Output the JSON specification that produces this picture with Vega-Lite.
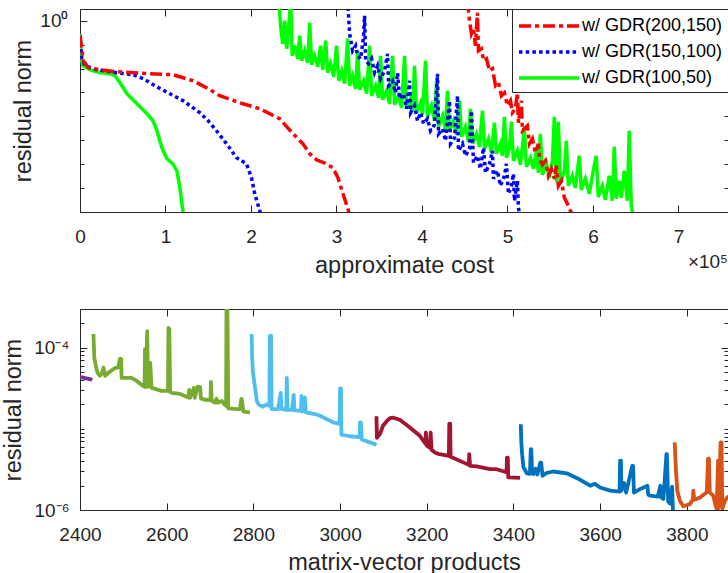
{
  "$schema": "https://vega.github.io/schema/vega-lite/v6.json",
  "background": "white",
  "padding": {"left": 1, "top": 8, "right": 0, "bottom": 0},
  "config": {
    "font": "Liberation Sans",
    "view": {"stroke": "#262626", "strokeWidth": 1},
    "axis": {
      "domain": false, "grid": false, "labelFlush": false,
      "labelFont": "Liberation Sans", "labelFontSize": 19, "labelColor": "#262626",
      "titleFont": "Liberation Sans", "titleFontSize": 23.5, "titleFontWeight": "normal", "titleColor": "#262626",
      "tickColor": "#262626", "tickWidth": 1
    }
  },
  "bounds": "flush",
  "spacing": 97,
  "resolve": {"scale": {"color": "independent", "strokeDash": "independent"}},
  "vconcat": [
    {
      "width": 648, "height": 203,
      "title": {"text": "×10⁵", "orient": "bottom", "anchor": "end", "frame": "group", "offset": -24, "fontSize": 19, "fontWeight": "normal", "font": "Liberation Sans", "color": "#262626"},
      "data": {"values": [
        {"series":"w/ GDR(100,50)","seg":"a","cost":0,"res":0.286},
        {"series":"w/ GDR(100,50)","seg":"a","cost":1170,"res":0.0283},
        {"series":"w/ GDR(100,50)","seg":"a","cost":3500,"res":0.0131},
        {"series":"w/ GDR(100,50)","seg":"a","cost":11700,"res":0.0089},
        {"series":"w/ GDR(100,50)","seg":"a","cost":23400,"res":0.00668},
        {"series":"w/ GDR(100,50)","seg":"a","cost":35000,"res":0.00606},
        {"series":"w/ GDR(100,50)","seg":"a","cost":40900,"res":0.005},
        {"series":"w/ GDR(100,50)","seg":"a","cost":46700,"res":0.00255},
        {"series":"w/ GDR(100,50)","seg":"a","cost":54900,"res":8.84e-4},
        {"series":"w/ GDR(100,50)","seg":"a","cost":66600,"res":3.37e-4},
        {"series":"w/ GDR(100,50)","seg":"a","cost":78300,"res":1.29e-4},
        {"series":"w/ GDR(100,50)","seg":"a","cost":85300,"res":6.55e-5},
        {"series":"w/ GDR(100,50)","seg":"a","cost":90000,"res":2.5e-5},
        {"series":"w/ GDR(100,50)","seg":"a","cost":95800,"res":4.86e-6},
        {"series":"w/ GDR(100,50)","seg":"a","cost":101600,"res":1.69e-6},
        {"series":"w/ GDR(100,50)","seg":"a","cost":108600,"res":1.04e-6},
        {"series":"w/ GDR(100,50)","seg":"a","cost":113300,"res":5.3e-7},
        {"series":"w/ GDR(100,50)","seg":"a","cost":116800,"res":1.03e-7},
        {"series":"w/ GDR(100,50)","seg":"a","cost":120300,"res":1.12e-8},
        {"series":"w/ GDR(100,50)","seg":"a","cost":122700,"res":2.6e-9},

        {"series":"w/ GDR(150,100)","seg":"a","cost":0,"res":0.236},
        {"series":"w/ GDR(150,100)","seg":"a","cost":2000,"res":0.0283},
        {"series":"w/ GDR(150,100)","seg":"a","cost":5800,"res":0.0131},
        {"series":"w/ GDR(150,100)","seg":"a","cost":19500,"res":0.0089},
        {"series":"w/ GDR(150,100)","seg":"a","cost":42900,"res":0.00668},
        {"series":"w/ GDR(150,100)","seg":"a","cost":62300,"res":0.0055},
        {"series":"w/ GDR(150,100)","seg":"a","cost":74000,"res":0.00375},
        {"series":"w/ GDR(150,100)","seg":"a","cost":89600,"res":0.00174},
        {"series":"w/ GDR(150,100)","seg":"a","cost":105100,"res":8.84e-4},
        {"series":"w/ GDR(150,100)","seg":"a","cost":120700,"res":4.5e-4},
        {"series":"w/ GDR(150,100)","seg":"a","cost":140200,"res":1.42e-4},
        {"series":"w/ GDR(150,100)","seg":"a","cost":149900,"res":6.55e-5},
        {"series":"w/ GDR(150,100)","seg":"a","cost":159700,"res":2.5e-5},
        {"series":"w/ GDR(150,100)","seg":"a","cost":171400,"res":7.14e-6},
        {"series":"w/ GDR(150,100)","seg":"a","cost":183100,"res":1.86e-6},
        {"series":"w/ GDR(150,100)","seg":"a","cost":194700,"res":1.04e-6},
        {"series":"w/ GDR(150,100)","seg":"a","cost":200600,"res":2.7e-7},
        {"series":"w/ GDR(150,100)","seg":"a","cost":204400,"res":5.78e-8},
        {"series":"w/ GDR(150,100)","seg":"a","cost":210300,"res":1.12e-8},
        {"series":"w/ GDR(150,100)","seg":"a","cost":212600,"res":4.3e-9},

        {"series":"w/ GDR(200,150)","seg":"a","cost":0,"res":0.236},
        {"series":"w/ GDR(200,150)","seg":"a","cost":3900,"res":0.0212},
        {"series":"w/ GDR(200,150)","seg":"a","cost":9700,"res":0.0108},
        {"series":"w/ GDR(200,150)","seg":"a","cost":23400,"res":0.0089},
        {"series":"w/ GDR(200,150)","seg":"a","cost":42900,"res":0.00735},
        {"series":"w/ GDR(200,150)","seg":"a","cost":81800,"res":0.00606},
        {"series":"w/ GDR(200,150)","seg":"a","cost":109000,"res":0.0055},
        {"series":"w/ GDR(200,150)","seg":"a","cost":132300,"res":0.00309},
        {"series":"w/ GDR(200,150)","seg":"a","cost":148000,"res":0.00158},
        {"series":"w/ GDR(200,150)","seg":"a","cost":163500,"res":7.28e-4},
        {"series":"w/ GDR(200,150)","seg":"a","cost":186900,"res":3.71e-4},
        {"series":"w/ GDR(200,150)","seg":"a","cost":210300,"res":2.08e-4},
        {"series":"w/ GDR(200,150)","seg":"a","cost":233600,"res":7.96e-5},
        {"series":"w/ GDR(200,150)","seg":"a","cost":249200,"res":1.87e-5},
        {"series":"w/ GDR(200,150)","seg":"a","cost":260800,"res":7.14e-6},
        {"series":"w/ GDR(200,150)","seg":"a","cost":268700,"res":2.73e-6},
        {"series":"w/ GDR(200,150)","seg":"a","cost":276500,"res":1.53e-6},
        {"series":"w/ GDR(200,150)","seg":"a","cost":288200,"res":1.04e-6},
        {"series":"w/ GDR(200,150)","seg":"a","cost":295900,"res":7.07e-7},
        {"series":"w/ GDR(200,150)","seg":"a","cost":301700,"res":2.7e-7},
        {"series":"w/ GDR(200,150)","seg":"a","cost":307600,"res":5.78e-8},
        {"series":"w/ GDR(200,150)","seg":"a","cost":313400,"res":1.36e-8},
        {"series":"w/ GDR(200,150)","seg":"a","cost":315400,"res":6.9e-9},

        {"series":"w/ GDR(100,50)","seg":"b","cost":232500,"res":6.87},
        {"series":"w/ GDR(100,50)","seg":"b","cost":234800,"res":0.51},
        {"series":"w/ GDR(100,50)","seg":"b","cost":237100,"res":0.109},
        {"series":"w/ GDR(100,50)","seg":"b","cost":239500,"res":1.0},
        {"series":"w/ GDR(100,50)","seg":"b","cost":241800,"res":0.0674},
        {"series":"w/ GDR(100,50)","seg":"b","cost":244200,"res":0.618},
        {"series":"w/ GDR(100,50)","seg":"b","cost":246500,"res":6.87},
        {"series":"w/ GDR(100,50)","seg":"b","cost":248200,"res":0.0343},
        {"series":"w/ GDR(100,50)","seg":"b","cost":251200,"res":0.0899},
        {"series":"w/ GDR(100,50)","seg":"b","cost":254700,"res":0.0257},
        {"series":"w/ GDR(100,50)","seg":"b","cost":257000,"res":0.236},
        {"series":"w/ GDR(100,50)","seg":"b","cost":259300,"res":0.0212},
        {"series":"w/ GDR(100,50)","seg":"b","cost":262800,"res":0.0556},
        {"series":"w/ GDR(100,50)","seg":"b","cost":266300,"res":0.0175},
        {"series":"w/ GDR(100,50)","seg":"b","cost":268700,"res":0.825},
        {"series":"w/ GDR(100,50)","seg":"b","cost":271000,"res":0.0144},
        {"series":"w/ GDR(100,50)","seg":"b","cost":274500,"res":0.0343},
        {"series":"w/ GDR(100,50)","seg":"b","cost":278000,"res":0.0119},
        {"series":"w/ GDR(100,50)","seg":"b","cost":281500,"res":0.0899},
        {"series":"w/ GDR(100,50)","seg":"b","cost":283900,"res":0.0089},
        {"series":"w/ GDR(100,50)","seg":"b","cost":287400,"res":0.146},
        {"series":"w/ GDR(100,50)","seg":"b","cost":289700,"res":0.00668},
        {"series":"w/ GDR(100,50)","seg":"b","cost":293200,"res":0.0159},
        {"series":"w/ GDR(100,50)","seg":"b","cost":296700,"res":0.00454},
        {"series":"w/ GDR(100,50)","seg":"b","cost":300200,"res":0.0899},
        {"series":"w/ GDR(100,50)","seg":"b","cost":302600,"res":0.00309},
        {"series":"w/ GDR(100,50)","seg":"b","cost":306100,"res":0.00809},
        {"series":"w/ GDR(100,50)","seg":"b","cost":309600,"res":0.00232},
        {"series":"w/ GDR(100,50)","seg":"b","cost":313100,"res":0.177},
        {"series":"w/ GDR(100,50)","seg":"b","cost":315400,"res":0.00191},
        {"series":"w/ GDR(100,50)","seg":"b","cost":318900,"res":0.005},
        {"series":"w/ GDR(100,50)","seg":"b","cost":322400,"res":0.00143},
        {"series":"w/ GDR(100,50)","seg":"b","cost":324800,"res":0.0556},
        {"series":"w/ GDR(100,50)","seg":"b","cost":327100,"res":0.0013},
        {"series":"w/ GDR(100,50)","seg":"b","cost":331800,"res":0.00309},
        {"series":"w/ GDR(100,50)","seg":"b","cost":335300,"res":8.84e-4},
        {"series":"w/ GDR(100,50)","seg":"b","cost":338800,"res":0.0899},
        {"series":"w/ GDR(100,50)","seg":"b","cost":341100,"res":7.28e-4},
        {"series":"w/ GDR(100,50)","seg":"b","cost":345800,"res":0.00191},
        {"series":"w/ GDR(100,50)","seg":"b","cost":349300,"res":6.01e-4},
        {"series":"w/ GDR(100,50)","seg":"b","cost":351600,"res":0.0343},
        {"series":"w/ GDR(100,50)","seg":"b","cost":354000,"res":4.95e-4},
        {"series":"w/ GDR(100,50)","seg":"b","cost":358600,"res":0.00118},
        {"series":"w/ GDR(100,50)","seg":"b","cost":362100,"res":3.37e-4},
        {"series":"w/ GDR(100,50)","seg":"b","cost":365600,"res":0.0343},
        {"series":"w/ GDR(100,50)","seg":"b","cost":368000,"res":3.06e-4},
        {"series":"w/ GDR(100,50)","seg":"b","cost":372700,"res":7.28e-4},
        {"series":"w/ GDR(100,50)","seg":"b","cost":376200,"res":2.29e-4},
        {"series":"w/ GDR(100,50)","seg":"b","cost":379700,"res":0.0343},
        {"series":"w/ GDR(100,50)","seg":"b","cost":382000,"res":2.08e-4},
        {"series":"w/ GDR(100,50)","seg":"b","cost":386700,"res":5.46e-4},
        {"series":"w/ GDR(100,50)","seg":"b","cost":389000,"res":1.72e-4},
        {"series":"w/ GDR(100,50)","seg":"b","cost":391300,"res":0.0131},
        {"series":"w/ GDR(100,50)","seg":"b","cost":393700,"res":1.42e-4},
        {"series":"w/ GDR(100,50)","seg":"b","cost":398400,"res":3.71e-4},
        {"series":"w/ GDR(100,50)","seg":"b","cost":400700,"res":1.17e-4},
        {"series":"w/ GDR(100,50)","seg":"b","cost":404200,"res":0.0212},
        {"series":"w/ GDR(100,50)","seg":"b","cost":406500,"res":9.63e-5},
        {"series":"w/ GDR(100,50)","seg":"b","cost":411200,"res":2.78e-4},
        {"series":"w/ GDR(100,50)","seg":"b","cost":414700,"res":6.55e-5},
        {"series":"w/ GDR(100,50)","seg":"b","cost":417100,"res":0.00309},
        {"series":"w/ GDR(100,50)","seg":"b","cost":419400,"res":3.68e-5},
        {"series":"w/ GDR(100,50)","seg":"b","cost":424100,"res":1.06e-4},
        {"series":"w/ GDR(100,50)","seg":"b","cost":427600,"res":2.75e-5},
        {"series":"w/ GDR(100,50)","seg":"b","cost":429900,"res":0.00118},
        {"series":"w/ GDR(100,50)","seg":"b","cost":432200,"res":2.5e-5},
        {"series":"w/ GDR(100,50)","seg":"b","cost":436900,"res":6.55e-5},
        {"series":"w/ GDR(100,50)","seg":"b","cost":440400,"res":1.7e-5},
        {"series":"w/ GDR(100,50)","seg":"b","cost":443900,"res":4.5e-4},
        {"series":"w/ GDR(100,50)","seg":"b","cost":446300,"res":1.4e-5},
        {"series":"w/ GDR(100,50)","seg":"b","cost":450900,"res":3.68e-5},
        {"series":"w/ GDR(100,50)","seg":"b","cost":454400,"res":8.65e-6},
        {"series":"w/ GDR(100,50)","seg":"b","cost":456800,"res":2.08e-4},
        {"series":"w/ GDR(100,50)","seg":"b","cost":459100,"res":7.14e-6},
        {"series":"w/ GDR(100,50)","seg":"b","cost":463800,"res":1.87e-5},
        {"series":"w/ GDR(100,50)","seg":"b","cost":467300,"res":5.35e-6},
        {"series":"w/ GDR(100,50)","seg":"b","cost":470800,"res":1.72e-4},
        {"series":"w/ GDR(100,50)","seg":"b","cost":473100,"res":4.41e-6},
        {"series":"w/ GDR(100,50)","seg":"b","cost":477800,"res":1.16e-5},
        {"series":"w/ GDR(100,50)","seg":"b","cost":481300,"res":3.0e-6},
        {"series":"w/ GDR(100,50)","seg":"b","cost":484800,"res":5.41e-5},
        {"series":"w/ GDR(100,50)","seg":"b","cost":487100,"res":2.73e-6},
        {"series":"w/ GDR(100,50)","seg":"b","cost":491800,"res":7.14e-6},
        {"series":"w/ GDR(100,50)","seg":"b","cost":494100,"res":2.25e-6},
        {"series":"w/ GDR(100,50)","seg":"b","cost":496500,"res":9.63e-5},
        {"series":"w/ GDR(100,50)","seg":"b","cost":498800,"res":1.86e-6},
        {"series":"w/ GDR(100,50)","seg":"b","cost":502300,"res":4.41e-6},
        {"series":"w/ GDR(100,50)","seg":"b","cost":504700,"res":5.95e-5},
        {"series":"w/ GDR(100,50)","seg":"b","cost":507000,"res":1.39e-6},
        {"series":"w/ GDR(100,50)","seg":"b","cost":511700,"res":3.64e-6},
        {"series":"w/ GDR(100,50)","seg":"b","cost":515200,"res":9.45e-7},
        {"series":"w/ GDR(100,50)","seg":"b","cost":519800,"res":3.03e-5},
        {"series":"w/ GDR(100,50)","seg":"b","cost":522200,"res":7.78e-7},
        {"series":"w/ GDR(100,50)","seg":"b","cost":526900,"res":1.86e-6},
        {"series":"w/ GDR(100,50)","seg":"b","cost":530400,"res":6.42e-7},
        {"series":"w/ GDR(100,50)","seg":"b","cost":533900,"res":3.64e-6},
        {"series":"w/ GDR(100,50)","seg":"b","cost":536200,"res":4.37e-7},
        {"series":"w/ GDR(100,50)","seg":"b","cost":538500,"res":1.87e-5},
        {"series":"w/ GDR(100,50)","seg":"b","cost":540900,"res":3.6e-7},
        {"series":"w/ GDR(100,50)","seg":"b","cost":545500,"res":1.04e-6},
        {"series":"w/ GDR(100,50)","seg":"b","cost":549100,"res":2.7e-7},
        {"series":"w/ GDR(100,50)","seg":"b","cost":552600,"res":1.39e-6},
        {"series":"w/ GDR(100,50)","seg":"b","cost":554900,"res":9.63e-5},
        {"series":"w/ GDR(100,50)","seg":"b","cost":557200,"res":1.83e-7},
        {"series":"w/ GDR(100,50)","seg":"b","cost":559600,"res":5.95e-5},
        {"series":"w/ GDR(100,50)","seg":"b","cost":561900,"res":1.51e-7},
        {"series":"w/ GDR(100,50)","seg":"b","cost":566600,"res":5.3e-7},
        {"series":"w/ GDR(100,50)","seg":"b","cost":568900,"res":9.53e-6},
        {"series":"w/ GDR(100,50)","seg":"b","cost":571200,"res":1.25e-7},
        {"series":"w/ GDR(100,50)","seg":"b","cost":575900,"res":3.27e-7},
        {"series":"w/ GDR(100,50)","seg":"b","cost":579400,"res":1.03e-7},
        {"series":"w/ GDR(100,50)","seg":"b","cost":584100,"res":2.25e-6},
        {"series":"w/ GDR(100,50)","seg":"b","cost":586400,"res":8.49e-8},
        {"series":"w/ GDR(100,50)","seg":"b","cost":591100,"res":2.45e-7},
        {"series":"w/ GDR(100,50)","seg":"b","cost":595800,"res":5.78e-8},
        {"series":"w/ GDR(100,50)","seg":"b","cost":600400,"res":5.3e-7},
        {"series":"w/ GDR(100,50)","seg":"b","cost":603900,"res":2.25e-6},
        {"series":"w/ GDR(100,50)","seg":"b","cost":606300,"res":4.32e-8},
        {"series":"w/ GDR(100,50)","seg":"b","cost":611000,"res":1.25e-7},
        {"series":"w/ GDR(100,50)","seg":"b","cost":614500,"res":3.24e-8},
        {"series":"w/ GDR(100,50)","seg":"b","cost":619100,"res":3.27e-7},
        {"series":"w/ GDR(100,50)","seg":"b","cost":622700,"res":2.94e-8},
        {"series":"w/ GDR(100,50)","seg":"b","cost":625000,"res":5.35e-6},
        {"series":"w/ GDR(100,50)","seg":"b","cost":627300,"res":3.57e-8},
        {"series":"w/ GDR(100,50)","seg":"b","cost":630800,"res":2.02e-7},
        {"series":"w/ GDR(100,50)","seg":"b","cost":633200,"res":3.93e-8},
        {"series":"w/ GDR(100,50)","seg":"b","cost":636700,"res":5.3e-7},
        {"series":"w/ GDR(100,50)","seg":"b","cost":640200,"res":2.94e-8},
        {"series":"w/ GDR(100,50)","seg":"b","cost":642500,"res":2.5e-5},
        {"series":"w/ GDR(100,50)","seg":"b","cost":644800,"res":1.82e-8},
        {"series":"w/ GDR(100,50)","seg":"b","cost":647200,"res":6.9e-9},

        {"series":"w/ GDR(150,100)","seg":"b","cost":313100,"res":6.87},
        {"series":"w/ GDR(150,100)","seg":"b","cost":315400,"res":0.286},
        {"series":"w/ GDR(150,100)","seg":"b","cost":318900,"res":0.0556},
        {"series":"w/ GDR(150,100)","seg":"b","cost":322400,"res":0.0899},
        {"series":"w/ GDR(150,100)","seg":"b","cost":324800,"res":0.0343},
        {"series":"w/ GDR(150,100)","seg":"b","cost":328300,"res":0.0257},
        {"series":"w/ GDR(150,100)","seg":"b","cost":331800,"res":0.236},
        {"series":"w/ GDR(150,100)","seg":"b","cost":332900,"res":1.62},
        {"series":"w/ GDR(150,100)","seg":"b","cost":334100,"res":0.0212},
        {"series":"w/ GDR(150,100)","seg":"b","cost":337600,"res":0.0159},
        {"series":"w/ GDR(150,100)","seg":"b","cost":341100,"res":0.0257},
        {"series":"w/ GDR(150,100)","seg":"b","cost":344600,"res":0.00668},
        {"series":"w/ GDR(150,100)","seg":"b","cost":348100,"res":0.0131},
        {"series":"w/ GDR(150,100)","seg":"b","cost":351600,"res":0.00375},
        {"series":"w/ GDR(150,100)","seg":"b","cost":356300,"res":0.00809},
        {"series":"w/ GDR(150,100)","seg":"b","cost":359800,"res":0.0416},
        {"series":"w/ GDR(150,100)","seg":"b","cost":361000,"res":0.00191},
        {"series":"w/ GDR(150,100)","seg":"b","cost":365600,"res":0.00309},
        {"series":"w/ GDR(150,100)","seg":"b","cost":369100,"res":9.74e-4},
        {"series":"w/ GDR(150,100)","seg":"b","cost":371500,"res":0.00668},
        {"series":"w/ GDR(150,100)","seg":"b","cost":373800,"res":5.46e-4},
        {"series":"w/ GDR(150,100)","seg":"b","cost":378500,"res":8.84e-4},
        {"series":"w/ GDR(150,100)","seg":"b","cost":382000,"res":2.08e-4},
        {"series":"w/ GDR(150,100)","seg":"b","cost":385500,"res":0.00309},
        {"series":"w/ GDR(150,100)","seg":"b","cost":386700,"res":1.42e-4},
        {"series":"w/ GDR(150,100)","seg":"b","cost":391300,"res":2.78e-4},
        {"series":"w/ GDR(150,100)","seg":"b","cost":394800,"res":6.55e-5},
        {"series":"w/ GDR(150,100)","seg":"b","cost":398400,"res":1.42e-4},
        {"series":"w/ GDR(150,100)","seg":"b","cost":401900,"res":4.91e-5},
        {"series":"w/ GDR(150,100)","seg":"b","cost":406500,"res":7.96e-5},
        {"series":"w/ GDR(150,100)","seg":"b","cost":410000,"res":2.5e-5},
        {"series":"w/ GDR(150,100)","seg":"b","cost":414700,"res":4.46e-5},
        {"series":"w/ GDR(150,100)","seg":"b","cost":418200,"res":0.00606},
        {"series":"w/ GDR(150,100)","seg":"b","cost":419400,"res":1.87e-5},
        {"series":"w/ GDR(150,100)","seg":"b","cost":424100,"res":3.03e-5},
        {"series":"w/ GDR(150,100)","seg":"b","cost":427600,"res":9.53e-6},
        {"series":"w/ GDR(150,100)","seg":"b","cost":432200,"res":4.5e-4},
        {"series":"w/ GDR(150,100)","seg":"b","cost":433400,"res":7.14e-6},
        {"series":"w/ GDR(150,100)","seg":"b","cost":438100,"res":1.27e-5},
        {"series":"w/ GDR(150,100)","seg":"b","cost":441600,"res":7.28e-4},
        {"series":"w/ GDR(150,100)","seg":"b","cost":442700,"res":3.64e-6},
        {"series":"w/ GDR(150,100)","seg":"b","cost":447400,"res":7.14e-6},
        {"series":"w/ GDR(150,100)","seg":"b","cost":450900,"res":2.25e-6},
        {"series":"w/ GDR(150,100)","seg":"b","cost":455600,"res":4.41e-6},
        {"series":"w/ GDR(150,100)","seg":"b","cost":457900,"res":1.72e-4},
        {"series":"w/ GDR(150,100)","seg":"b","cost":460300,"res":1.15e-6},
        {"series":"w/ GDR(150,100)","seg":"b","cost":464900,"res":2.25e-6},
        {"series":"w/ GDR(150,100)","seg":"b","cost":468400,"res":6.42e-7},
        {"series":"w/ GDR(150,100)","seg":"b","cost":472000,"res":4.86e-6},
        {"series":"w/ GDR(150,100)","seg":"b","cost":474300,"res":4.37e-7},
        {"series":"w/ GDR(150,100)","seg":"b","cost":479000,"res":1.04e-6},
        {"series":"w/ GDR(150,100)","seg":"b","cost":482500,"res":3.64e-6},
        {"series":"w/ GDR(150,100)","seg":"b","cost":483600,"res":2.45e-7},
        {"series":"w/ GDR(150,100)","seg":"b","cost":488300,"res":5.3e-7},
        {"series":"w/ GDR(150,100)","seg":"b","cost":491800,"res":1.25e-7},
        {"series":"w/ GDR(150,100)","seg":"b","cost":496500,"res":3.27e-7},
        {"series":"w/ GDR(150,100)","seg":"b","cost":498800,"res":1.04e-6},
        {"series":"w/ GDR(150,100)","seg":"b","cost":501200,"res":5.78e-8},
        {"series":"w/ GDR(150,100)","seg":"b","cost":504700,"res":1.25e-7},
        {"series":"w/ GDR(150,100)","seg":"b","cost":507000,"res":3.97e-7},
        {"series":"w/ GDR(150,100)","seg":"b","cost":508200,"res":2.94e-8},
        {"series":"w/ GDR(150,100)","seg":"b","cost":511700,"res":2.02e-7},
        {"series":"w/ GDR(150,100)","seg":"b","cost":512800,"res":1.5e-8},
        {"series":"w/ GDR(150,100)","seg":"b","cost":515200,"res":5.3e-9},

        {"series":"w/ GDR(200,150)","seg":"b","cost":453300,"res":6.87},
        {"series":"w/ GDR(200,150)","seg":"b","cost":455600,"res":1.0},
        {"series":"w/ GDR(200,150)","seg":"b","cost":457900,"res":0.286},
        {"series":"w/ GDR(200,150)","seg":"b","cost":460300,"res":0.463},
        {"series":"w/ GDR(200,150)","seg":"b","cost":462600,"res":0.0899},
        {"series":"w/ GDR(200,150)","seg":"b","cost":464900,"res":2.16},
        {"series":"w/ GDR(200,150)","seg":"b","cost":466100,"res":0.0556},
        {"series":"w/ GDR(200,150)","seg":"b","cost":469600,"res":0.0674},
        {"series":"w/ GDR(200,150)","seg":"b","cost":472000,"res":0.0212},
        {"series":"w/ GDR(200,150)","seg":"b","cost":475500,"res":0.0257},
        {"series":"w/ GDR(200,150)","seg":"b","cost":479000,"res":0.00809},
        {"series":"w/ GDR(200,150)","seg":"b","cost":482500,"res":0.00981},
        {"series":"w/ GDR(200,150)","seg":"b","cost":486000,"res":0.00191},
        {"series":"w/ GDR(200,150)","seg":"b","cost":489500,"res":0.00255},
        {"series":"w/ GDR(200,150)","seg":"b","cost":493000,"res":7.28e-4},
        {"series":"w/ GDR(200,150)","seg":"b","cost":496500,"res":9.74e-4},
        {"series":"w/ GDR(200,150)","seg":"b","cost":500000,"res":2.78e-4},
        {"series":"w/ GDR(200,150)","seg":"b","cost":503500,"res":4.5e-4},
        {"series":"w/ GDR(200,150)","seg":"b","cost":505800,"res":1.42e-4},
        {"series":"w/ GDR(200,150)","seg":"b","cost":509300,"res":2.08e-4},
        {"series":"w/ GDR(200,150)","seg":"b","cost":511700,"res":9.74e-4},
        {"series":"w/ GDR(200,150)","seg":"b","cost":512800,"res":5.41e-5},
        {"series":"w/ GDR(200,150)","seg":"b","cost":516300,"res":4.5e-4},
        {"series":"w/ GDR(200,150)","seg":"b","cost":517500,"res":2.5e-5},
        {"series":"w/ GDR(200,150)","seg":"b","cost":521000,"res":3.34e-5},
        {"series":"w/ GDR(200,150)","seg":"b","cost":523300,"res":4.05e-5},
        {"series":"w/ GDR(200,150)","seg":"b","cost":525700,"res":7.14e-6},
        {"series":"w/ GDR(200,150)","seg":"b","cost":529200,"res":1.16e-5},
        {"series":"w/ GDR(200,150)","seg":"b","cost":532700,"res":3.0e-6},
        {"series":"w/ GDR(200,150)","seg":"b","cost":536200,"res":7.14e-6},
        {"series":"w/ GDR(200,150)","seg":"b","cost":537400,"res":1.69e-6},
        {"series":"w/ GDR(200,150)","seg":"b","cost":540900,"res":9.45e-7},
        {"series":"w/ GDR(200,150)","seg":"b","cost":544400,"res":1.39e-6},
        {"series":"w/ GDR(200,150)","seg":"b","cost":547900,"res":3.27e-7},
        {"series":"w/ GDR(200,150)","seg":"b","cost":551400,"res":6.42e-7},
        {"series":"w/ GDR(200,150)","seg":"b","cost":554900,"res":2.45e-7},
        {"series":"w/ GDR(200,150)","seg":"b","cost":557200,"res":8.57e-7},
        {"series":"w/ GDR(200,150)","seg":"b","cost":559600,"res":1.25e-7},
        {"series":"w/ GDR(200,150)","seg":"b","cost":563100,"res":2.02e-7},
        {"series":"w/ GDR(200,150)","seg":"b","cost":566600,"res":3.93e-8},
        {"series":"w/ GDR(200,150)","seg":"b","cost":570100,"res":2.2e-8},
        {"series":"w/ GDR(200,150)","seg":"b","cost":574700,"res":9.3e-9}
      ]},
      "layer": [
        {
          "mark": {"type": "line", "strokeWidth": 3.5, "clip": true, "strokeCap": "butt"},
          "encoding": {
            "x": {"field": "cost", "type": "quantitative", "scale": {"domain": [0, 758000], "nice": false, "zero": false},
                  "axis": {"orient": "bottom", "values": [0,100000,200000,300000,400000,500000,600000,700000], "labelExpr": "format(datum.value / 100000, 'd')", "title": "approximate cost", "tickSize": -7, "labelPadding": 22, "titlePadding": 7}},
            "y": {"field": "res", "type": "quantitative", "scale": {"type": "log", "domain": [1e-8, 3.09], "nice": false},
                  "axis": {"orient": "left", "values": [1], "labelExpr": "'10⁰'", "title": "residual norm", "tickSize": -7, "labelPadding": 19, "titlePadding": 4}},
            "color": {"field": "series", "type": "nominal",
                      "scale": {"domain": ["w/ GDR(200,150)", "w/ GDR(150,100)", "w/ GDR(100,50)"], "range": ["#ff0000", "#0000ff", "#00ff00"]},
                      "legend": {"title": null, "orient": "top-right", "offset": 0, "symbolType": "M-1,0H5", "symbolSize": 400, "symbolStrokeWidth": 3.5, "labelOffset": 41, "rowPadding": 5, "padding": 5, "strokeColor": "#262626", "fillColor": "white", "labelFontSize": 18, "labelFont": "Liberation Sans", "labelColor": "#000000", "labelLimit": 300}},
            "strokeDash": {"field": "series", "type": "nominal",
                      "scale": {"domain": ["w/ GDR(200,150)", "w/ GDR(150,100)", "w/ GDR(100,50)"], "range": [[12, 4, 4, 4], [3.5, 3.2], [1, 0]]},
                      "legend": {"title": null, "orient": "top-right", "offset": 0, "symbolType": "M-1,0H5", "symbolSize": 400, "symbolStrokeWidth": 3.5, "labelOffset": 41, "rowPadding": 5, "padding": 5, "strokeColor": "#262626", "fillColor": "white", "labelFontSize": 18, "labelFont": "Liberation Sans", "labelColor": "#000000", "labelLimit": 300}},
            "detail": {"field": "seg"}
          }
        },
        {
          "mark": {"type": "point", "opacity": 0, "clip": true},
          "encoding": {
            "x": {"field": "cost", "type": "quantitative", "scale": {"domain": [0, 758000], "nice": false, "zero": false},
                  "axis": {"orient": "top", "values": [0,100000,200000,300000,400000,500000,600000,700000], "labels": false, "title": null, "tickSize": -7}},
            "y": {"field": "res", "type": "quantitative", "scale": {"type": "log", "domain": [1e-8, 3.09], "nice": false},
                  "axis": {"orient": "right", "values": [1], "labels": false, "title": null, "tickSize": -7}}
          }
        },
        {
          "mark": {"type": "point", "opacity": 0, "clip": true},
          "encoding": {
            "x": {"field": "cost", "type": "quantitative", "scale": {"domain": [0, 758000], "nice": false, "zero": false}, "axis": null},
            "y": {"field": "res", "type": "quantitative", "scale": {"type": "log", "domain": [1e-8, 3.09], "nice": false},
                  "axis": {"orient": "left", "values": [1e-8,1e-7,1e-6,1e-5,1e-4,1e-3,1e-2,1e-1], "labels": false, "title": null, "tickSize": -4}}
          }
        },
        {
          "mark": {"type": "point", "opacity": 0, "clip": true},
          "encoding": {
            "x": {"field": "cost", "type": "quantitative", "scale": {"domain": [0, 758000], "nice": false, "zero": false}, "axis": null},
            "y": {"field": "res", "type": "quantitative", "scale": {"type": "log", "domain": [1e-8, 3.09], "nice": false},
                  "axis": {"orient": "right", "values": [1e-8,1e-7,1e-6,1e-5,1e-4,1e-3,1e-2,1e-1], "labels": false, "title": null, "tickSize": -4}}
          }
        }
      ],
      "resolve": {"axis": {"x": "independent", "y": "independent"}}
    },
    {
      "width": 648, "height": 201,
      "data": {"values": [
        {"cycle":"c1","mv":2396,"res":4.45e-5},
        {"cycle":"c1","mv":2400,"res":4.37e-5},
        {"cycle":"c1","mv":2412,"res":4.22e-5},
        {"cycle":"c1","mv":2423,"res":4.10e-5},
        {"cycle":"c1","mv":2428,"res":3.98e-5},

        {"cycle":"c2","mv":2431,"res":1.47e-4},
        {"cycle":"c2","mv":2433,"res":7.5e-5},
        {"cycle":"c2","mv":2439,"res":5.17e-5},
        {"cycle":"c2","mv":2442,"res":4.75e-5},
        {"cycle":"c2","mv":2446,"res":4.49e-5},
        {"cycle":"c2","mv":2451,"res":4.89e-5},
        {"cycle":"c2","mv":2454,"res":5.66e-5},
        {"cycle":"c2","mv":2458,"res":4.49e-5},
        {"cycle":"c2","mv":2465,"res":4.89e-5},
        {"cycle":"c2","mv":2481,"res":5.62e-5},
        {"cycle":"c2","mv":2488,"res":5.66e-5},
        {"cycle":"c2","mv":2492,"res":7.27e-5},
        {"cycle":"c2","mv":2495,"res":7.27e-5},
        {"cycle":"c2","mv":2496,"res":4.24e-5},
        {"cycle":"c2","mv":2519,"res":4.24e-5},
        {"cycle":"c2","mv":2531,"res":3.89e-5},
        {"cycle":"c2","mv":2542,"res":3.48e-5},
        {"cycle":"c2","mv":2549,"res":3.28e-5},
        {"cycle":"c2","mv":2550,"res":9.6e-5},
        {"cycle":"c2","mv":2552,"res":3.28e-5},
        {"cycle":"c2","mv":2555,"res":1.6e-4},
        {"cycle":"c2","mv":2557,"res":3.28e-5},
        {"cycle":"c2","mv":2562,"res":6.48e-5},
        {"cycle":"c2","mv":2565,"res":3.19e-5},
        {"cycle":"c2","mv":2573,"res":3.10e-5},
        {"cycle":"c2","mv":2588,"res":2.93e-5},
        {"cycle":"c2","mv":2603,"res":2.93e-5},
        {"cycle":"c2","mv":2604,"res":1.75e-4},
        {"cycle":"c2","mv":2606,"res":1.7e-4},
        {"cycle":"c2","mv":2608,"res":2.85e-5},
        {"cycle":"c2","mv":2612,"res":2.77e-5},
        {"cycle":"c2","mv":2631,"res":2.69e-5},
        {"cycle":"c2","mv":2650,"res":2.43e-5},
        {"cycle":"c2","mv":2652,"res":3.01e-5},
        {"cycle":"c2","mv":2654,"res":2.41e-5},
        {"cycle":"c2","mv":2663,"res":3.19e-5},
        {"cycle":"c2","mv":2665,"res":2.41e-5},
        {"cycle":"c2","mv":2671,"res":3.28e-5},
        {"cycle":"c2","mv":2677,"res":3.28e-5},
        {"cycle":"c2","mv":2679,"res":2.37e-5},
        {"cycle":"c2","mv":2688,"res":2.28e-5},
        {"cycle":"c2","mv":2701,"res":2.25e-5},
        {"cycle":"c2","mv":2702,"res":3.78e-5},
        {"cycle":"c2","mv":2704,"res":2.21e-5},
        {"cycle":"c2","mv":2711,"res":2.10e-5},
        {"cycle":"c2","mv":2715,"res":2.34e-5},
        {"cycle":"c2","mv":2718,"res":2.09e-5},
        {"cycle":"c2","mv":2727,"res":2.21e-5},
        {"cycle":"c2","mv":2732,"res":2.03e-5},
        {"cycle":"c2","mv":2737,"res":1.92e-5},
        {"cycle":"c2","mv":2738,"res":3.75e-4},
        {"cycle":"c2","mv":2740,"res":3.75e-4},
        {"cycle":"c2","mv":2742,"res":1.79e-5},
        {"cycle":"c2","mv":2758,"res":1.76e-5},
        {"cycle":"c2","mv":2769,"res":1.75e-5},
        {"cycle":"c2","mv":2772,"res":2.31e-5},
        {"cycle":"c2","mv":2773,"res":2.34e-5},
        {"cycle":"c2","mv":2777,"res":1.63e-5},
        {"cycle":"c2","mv":2792,"res":1.59e-5},

        {"cycle":"c3","mv":2796,"res":1.47e-4},
        {"cycle":"c3","mv":2797,"res":7.9e-5},
        {"cycle":"c3","mv":2799,"res":4.89e-5},
        {"cycle":"c3","mv":2804,"res":3.19e-5},
        {"cycle":"c3","mv":2808,"res":2.21e-5},
        {"cycle":"c3","mv":2813,"res":1.97e-5},
        {"cycle":"c3","mv":2822,"res":1.87e-5},
        {"cycle":"c3","mv":2831,"res":2.0e-5},
        {"cycle":"c3","mv":2837,"res":1.92e-5},
        {"cycle":"c3","mv":2838,"res":1.39e-4},
        {"cycle":"c3","mv":2841,"res":1.39e-4},
        {"cycle":"c3","mv":2842,"res":1.75e-5},
        {"cycle":"c3","mv":2857,"res":1.75e-5},
        {"cycle":"c3","mv":2863,"res":2.77e-5},
        {"cycle":"c3","mv":2865,"res":1.76e-5},
        {"cycle":"c3","mv":2876,"res":1.71e-5},
        {"cycle":"c3","mv":2877,"res":4.24e-5},
        {"cycle":"c3","mv":2879,"res":1.71e-5},
        {"cycle":"c3","mv":2889,"res":1.71e-5},
        {"cycle":"c3","mv":2893,"res":2.62e-5},
        {"cycle":"c3","mv":2895,"res":1.69e-5},
        {"cycle":"c3","mv":2910,"res":1.66e-5},
        {"cycle":"c3","mv":2911,"res":2.55e-5},
        {"cycle":"c3","mv":2913,"res":1.63e-5},
        {"cycle":"c3","mv":2919,"res":2.43e-5},
        {"cycle":"c3","mv":2921,"res":1.59e-5},
        {"cycle":"c3","mv":2942,"res":1.52e-5},
        {"cycle":"c3","mv":2954,"res":1.45e-5},
        {"cycle":"c3","mv":2984,"res":1.20e-5},
        {"cycle":"c3","mv":2999,"res":1.15e-5},
        {"cycle":"c3","mv":3000,"res":3.15e-5},
        {"cycle":"c3","mv":3002,"res":3.15e-5},
        {"cycle":"c3","mv":3003,"res":8.45e-6},
        {"cycle":"c3","mv":3023,"res":8.1e-6},
        {"cycle":"c3","mv":3045,"res":7.9e-6},
        {"cycle":"c3","mv":3046,"res":1.20e-5},
        {"cycle":"c3","mv":3048,"res":1.20e-5},
        {"cycle":"c3","mv":3050,"res":7.4e-6},
        {"cycle":"c3","mv":3064,"res":6.95e-6},
        {"cycle":"c3","mv":3084,"res":6.36e-6},

        {"cycle":"c4","mv":3084,"res":1.43e-5},
        {"cycle":"c4","mv":3085,"res":7.75e-6},
        {"cycle":"c4","mv":3092,"res":8.6e-6},
        {"cycle":"c4","mv":3099,"res":1.09e-5},
        {"cycle":"c4","mv":3108,"res":1.25e-5},
        {"cycle":"c4","mv":3115,"res":1.35e-5},
        {"cycle":"c4","mv":3123,"res":1.37e-5},
        {"cycle":"c4","mv":3138,"res":1.29e-5},
        {"cycle":"c4","mv":3161,"res":1.04e-5},
        {"cycle":"c4","mv":3184,"res":8.2e-6},
        {"cycle":"c4","mv":3197,"res":6.55e-6},
        {"cycle":"c4","mv":3198,"res":9.0e-6},
        {"cycle":"c4","mv":3200,"res":6.18e-6},
        {"cycle":"c4","mv":3207,"res":5.84e-6},
        {"cycle":"c4","mv":3209,"res":9.0e-6},
        {"cycle":"c4","mv":3211,"res":5.5e-6},
        {"cycle":"c4","mv":3220,"res":5.07e-6},
        {"cycle":"c4","mv":3229,"res":4.87e-6},
        {"cycle":"c4","mv":3251,"res":4.65e-6},
        {"cycle":"c4","mv":3252,"res":1.16e-5},
        {"cycle":"c4","mv":3254,"res":1.16e-5},
        {"cycle":"c4","mv":3255,"res":4.52e-6},
        {"cycle":"c4","mv":3292,"res":3.7e-6},
        {"cycle":"c4","mv":3297,"res":3.6e-6},
        {"cycle":"c4","mv":3298,"res":4.89e-6},
        {"cycle":"c4","mv":3300,"res":3.5e-6},
        {"cycle":"c4","mv":3315,"res":3.45e-6},
        {"cycle":"c4","mv":3346,"res":3.18e-6},
        {"cycle":"c4","mv":3361,"res":3.18e-6},
        {"cycle":"c4","mv":3384,"res":2.92e-6},
        {"cycle":"c4","mv":3385,"res":4.41e-6},
        {"cycle":"c4","mv":3387,"res":4.41e-6},
        {"cycle":"c4","mv":3388,"res":2.52e-6},
        {"cycle":"c4","mv":3415,"res":2.48e-6},

        {"cycle":"c5","mv":3417,"res":1.14e-5},
        {"cycle":"c5","mv":3418,"res":7.12e-6},
        {"cycle":"c5","mv":3420,"res":4.87e-6},
        {"cycle":"c5","mv":3423,"res":3.37e-6},
        {"cycle":"c5","mv":3431,"res":2.83e-6},
        {"cycle":"c5","mv":3438,"res":2.79e-6},
        {"cycle":"c5","mv":3440,"res":5.6e-6},
        {"cycle":"c5","mv":3441,"res":5.6e-6},
        {"cycle":"c5","mv":3443,"res":3.04e-6},
        {"cycle":"c5","mv":3446,"res":2.77e-6},
        {"cycle":"c5","mv":3451,"res":3.22e-6},
        {"cycle":"c5","mv":3455,"res":2.74e-6},
        {"cycle":"c5","mv":3462,"res":3.82e-6},
        {"cycle":"c5","mv":3464,"res":3.82e-6},
        {"cycle":"c5","mv":3467,"res":2.64e-6},
        {"cycle":"c5","mv":3477,"res":2.87e-6},
        {"cycle":"c5","mv":3492,"res":2.98e-6},
        {"cycle":"c5","mv":3523,"res":2.83e-6},
        {"cycle":"c5","mv":3553,"res":2.37e-6},
        {"cycle":"c5","mv":3577,"res":1.99e-6},
        {"cycle":"c5","mv":3588,"res":2.1e-6},
        {"cycle":"c5","mv":3600,"res":1.89e-6},
        {"cycle":"c5","mv":3623,"res":1.73e-6},
        {"cycle":"c5","mv":3645,"res":1.68e-6},
        {"cycle":"c5","mv":3646,"res":4.04e-6},
        {"cycle":"c5","mv":3648,"res":4.04e-6},
        {"cycle":"c5","mv":3649,"res":1.73e-6},
        {"cycle":"c5","mv":3655,"res":2.15e-6},
        {"cycle":"c5","mv":3660,"res":1.64e-6},
        {"cycle":"c5","mv":3674,"res":3.5e-6},
        {"cycle":"c5","mv":3676,"res":3.5e-6},
        {"cycle":"c5","mv":3678,"res":1.64e-6},
        {"cycle":"c5","mv":3694,"res":1.83e-6},
        {"cycle":"c5","mv":3709,"res":1.99e-6},
        {"cycle":"c5","mv":3711,"res":1.55e-6},
        {"cycle":"c5","mv":3715,"res":1.5e-6},
        {"cycle":"c5","mv":3733,"res":1.46e-6},
        {"cycle":"c5","mv":3739,"res":1.99e-6},
        {"cycle":"c5","mv":3741,"res":1.42e-6},
        {"cycle":"c5","mv":3746,"res":1.37e-6},
        {"cycle":"c5","mv":3753,"res":4.89e-6},
        {"cycle":"c5","mv":3754,"res":4.89e-6},
        {"cycle":"c5","mv":3757,"res":1.27e-6},
        {"cycle":"c5","mv":3761,"res":1.2e-6},
        {"cycle":"c5","mv":3766,"res":1.94e-6},
        {"cycle":"c5","mv":3768,"res":9.8e-7},
        {"cycle":"c5","mv":3769,"res":7.5e-7},

        {"cycle":"c6","mv":3772,"res":6.8e-6},
        {"cycle":"c6","mv":3775,"res":3.04e-6},
        {"cycle":"c6","mv":3778,"res":1.73e-6},
        {"cycle":"c6","mv":3784,"res":1.3e-6},
        {"cycle":"c6","mv":3792,"res":1.11e-6},
        {"cycle":"c6","mv":3807,"res":1.18e-6},
        {"cycle":"c6","mv":3814,"res":1.34e-6},
        {"cycle":"c6","mv":3815,"res":1.73e-6},
        {"cycle":"c6","mv":3817,"res":1.34e-6},
        {"cycle":"c6","mv":3830,"res":1.42e-6},
        {"cycle":"c6","mv":3846,"res":1.65e-6},
        {"cycle":"c6","mv":3849,"res":4.28e-6},
        {"cycle":"c6","mv":3851,"res":4.28e-6},
        {"cycle":"c6","mv":3853,"res":1.64e-6},
        {"cycle":"c6","mv":3861,"res":1.5e-6},
        {"cycle":"c6","mv":3867,"res":1.1e-6},
        {"cycle":"c6","mv":3869,"res":1.04e-6},
        {"cycle":"c6","mv":3872,"res":4.04e-6},
        {"cycle":"c6","mv":3873,"res":1.05e-6},
        {"cycle":"c6","mv":3878,"res":6.8e-6},
        {"cycle":"c6","mv":3880,"res":6.8e-6},
        {"cycle":"c6","mv":3882,"res":1.04e-6},
        {"cycle":"c6","mv":3888,"res":1.3e-6},
        {"cycle":"c6","mv":3893,"res":1.42e-6},
        {"cycle":"c6","mv":3900,"res":1.5e-6}
      ]},
      "layer": [
        {
          "mark": {"type": "line", "strokeWidth": 3.8, "clip": true, "strokeJoin": "round"},
          "encoding": {
            "x": {"field": "mv", "type": "quantitative", "scale": {"domain": [2400, 3895], "nice": false, "zero": false},
                  "axis": {"orient": "bottom", "values": [2400,2600,2800,3000,3200,3400,3600,3800], "format": "d", "title": "matrix-vector products", "tickSize": -7, "labelPadding": 22, "titlePadding": 6}},
            "y": {"field": "res", "type": "quantitative", "scale": {"type": "log", "domain": [1e-6, 2.99e-4], "nice": false},
                  "axis": {"orient": "left", "values": [1e-6, 1e-4], "labelExpr": "datum.value < 1e-5 ? '10⁻⁶' : '10⁻⁴'", "title": "residual norm", "tickSize": -7, "labelPadding": 18, "titlePadding": 8}},
            "color": {"field": "cycle", "type": "nominal", "legend": null,
                      "scale": {"domain": ["c1","c2","c3","c4","c5","c6"], "range": ["#7e2f8e", "#77ac30", "#4dbeee", "#a2142f", "#0072bd", "#d95319"]}}
          }
        },
        {
          "mark": {"type": "point", "opacity": 0, "clip": true},
          "encoding": {
            "x": {"field": "mv", "type": "quantitative", "scale": {"domain": [2400, 3895], "nice": false, "zero": false},
                  "axis": {"orient": "top", "values": [2400,2600,2800,3000,3200,3400,3600,3800], "labels": false, "title": null, "tickSize": -7}},
            "y": {"field": "res", "type": "quantitative", "scale": {"type": "log", "domain": [1e-6, 2.99e-4], "nice": false},
                  "axis": {"orient": "right", "values": [1e-6, 1e-4], "labels": false, "title": null, "tickSize": -7}}
          }
        },
        {
          "mark": {"type": "point", "opacity": 0, "clip": true},
          "encoding": {
            "x": {"field": "mv", "type": "quantitative", "scale": {"domain": [2400, 3895], "nice": false, "zero": false}, "axis": null},
            "y": {"field": "res", "type": "quantitative", "scale": {"type": "log", "domain": [1e-6, 2.99e-4], "nice": false},
                  "axis": {"orient": "left", "values": [2e-6,3e-6,4e-6,5e-6,6e-6,7e-6,8e-6,9e-6,1e-5,2e-5,3e-5,4e-5,5e-5,6e-5,7e-5,8e-5,9e-5,2e-4], "labels": false, "title": null, "tickSize": -4}}
          }
        },
        {
          "mark": {"type": "point", "opacity": 0, "clip": true},
          "encoding": {
            "x": {"field": "mv", "type": "quantitative", "scale": {"domain": [2400, 3895], "nice": false, "zero": false}, "axis": null},
            "y": {"field": "res", "type": "quantitative", "scale": {"type": "log", "domain": [1e-6, 2.99e-4], "nice": false},
                  "axis": {"orient": "right", "values": [2e-6,3e-6,4e-6,5e-6,6e-6,7e-6,8e-6,9e-6,1e-5,2e-5,3e-5,4e-5,5e-5,6e-5,7e-5,8e-5,9e-5,2e-4], "labels": false, "title": null, "tickSize": -4}}
          }
        }
      ],
      "resolve": {"axis": {"x": "independent", "y": "independent"}}
    }
  ]
}
